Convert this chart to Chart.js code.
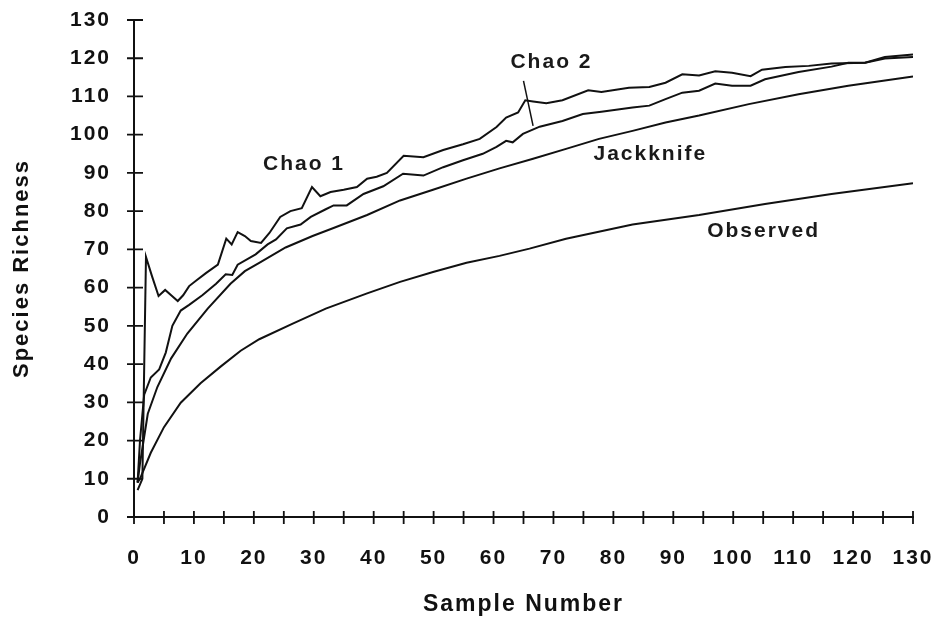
<!DOCTYPE html>
<html><head><meta charset="utf-8">
<script src="https://cdn.jsdelivr.net/npm/chart.js@4"></script>
<style>html,body{margin:0;padding:0;background:#fff}#wrap{width:946px;height:621px;position:relative}</style>
</head><body><div id="wrap"><canvas id="c"></canvas></div>
<script>
// ---- data ----
const chao1Samples = [0.6, 1.4, 2, 3, 4.1, 5.2, 6.2, 7.3, 8.2, 9.2, 10.5, 12, 14, 15.4, 16.3, 17.3, 18.5, 19.5, 21.2, 22.6, 24.4, 26.1, 28, 29.7, 31.1, 32.8, 35, 37.2, 38.9, 40.5, 42.2, 45, 48.3, 51.6, 54.9, 57.7, 60.5, 62.1, 64.1, 65.3, 66.6, 68.8, 71.5, 75.8, 78, 82.6, 86, 88.7, 91.5, 94.3, 97, 99.8, 102.9, 104.8, 108.7, 112.6, 116.4, 122, 125.3, 130];
const chao1Values  = [7, 10, 68, 63, 57.8, 59.4, 58, 56.5, 58, 60.4, 62, 63.8, 66, 72.8, 71.3, 74.5, 73.5, 72.2, 71.7, 74.3, 78.5, 80, 80.8, 86.3, 83.9, 85, 85.6, 86.3, 88.5, 89, 90, 94.5, 94.1, 96, 97.5, 98.9, 102, 104.5, 105.8, 109, 108.7, 108.2, 109, 111.6, 111.2, 112.3, 112.5, 113.6, 115.8, 115.5, 116.6, 116.2, 115.3, 117, 117.7, 118, 118.6, 118.8, 120.3, 121];

const chao2Samples = [0.6, 1, 1.7, 2.8, 4.2, 5.3, 6.4, 7.8, 9.2, 11.4, 13.7, 15.3, 16.4, 17.3, 20.3, 22.3, 23.7, 25.5, 27.8, 29.5, 32, 33.3, 35.5, 38.3, 41.6, 44.9, 48.3, 51.6, 54.9, 58.2, 60.5, 62.1, 63.2, 64.9, 67.7, 71.5, 74.9, 78, 83.2, 86, 88.7, 91.5, 94.3, 97, 99.8, 102.9, 105.3, 110.9, 116.4, 119.2, 122, 125.3, 130];
const chao2Values  = [9, 20, 32, 36.5, 38.6, 43, 50, 54, 55.5, 58, 61, 63.5, 63.3, 66, 68.7, 71.3, 72.6, 75.5, 76.5, 78.5, 80.5, 81.5, 81.5, 84.5, 86.5, 89.8, 89.3, 91.5, 93.3, 95, 96.8, 98.4, 98, 100.2, 102.1, 103.6, 105.4, 106, 107.1, 107.6, 109.3, 111, 111.5, 113.4, 112.8, 112.8, 114.5, 116.4, 117.8, 118.8, 118.8, 119.9, 120.3];

const jackknifeSamples = [0.6, 1, 2.3, 3.9, 6.2, 8.9, 12.3, 16.1, 18.5, 20.9, 25.3, 29.8, 33.3, 38.9, 44.4, 49.9, 55.5, 61, 66.6, 72.1, 77.6, 83.2, 88.7, 94.3, 102.6, 110.9, 119.2, 125.9, 130];
const jackknifeValues  = [9, 14, 27, 34, 41.5, 48, 54.5, 61, 64.3, 66.5, 70.5, 73.5, 75.6, 79, 82.8, 85.6, 88.5, 91.2, 93.7, 96.3, 98.9, 101, 103.2, 105, 108, 110.6, 112.8, 114.3, 115.2];

const observedSamples = [0.6, 1, 2.8, 5, 7.8, 11.1, 14.5, 17.8, 20.9, 26.4, 32, 38.9, 44.4, 49.9, 55.5, 61, 66, 72.1, 83.2, 94.3, 105.3, 116.4, 130];
const observedValues  = [9, 10, 16.8, 23.5, 29.9, 35, 39.4, 43.5, 46.5, 50.5, 54.5, 58.5, 61.5, 64.1, 66.5, 68.3, 70.2, 72.8, 76.5, 79, 81.9, 84.5, 87.3];

const xLabelValues = [0, 10, 20, 30, 40, 50, 60, 70, 80, 90, 100, 110, 120, 130];
const xMarkValues  = [0, 5, 10, 15, 20, 25, 30, 35, 40, 45, 50, 55, 60, 65, 70, 75, 80, 85, 90, 95, 100, 105, 110, 115, 120, 125, 130];
const yLabelValues = [0, 10, 20, 30, 40, 50, 60, 70, 80, 90, 100, 110, 120, 130];

const seriesLabels = ['Chao 1', 'Chao 2', 'Jackknife', 'Observed'];
// label anchor points in data units
const labelSamples = [28.2, 69.5, 86, 104.9];
const labelValues  = [92.4, 118.9, 95, 74.7];
// leader line for the Chao 2 label (data units)
const leaderSamples = [65.0, 66.6];
const leaderValues  = [114.1, 102.3];

const FONT = '"Liberation Sans", Arial, Helvetica, sans-serif';
const INK = '#111';

function pts(xs, ys) { return xs.map((x, i) => ({x: x, y: ys[i]})); }
function ds(label, xs, ys) {
  return { label, data: pts(xs, ys), borderColor: INK, borderWidth: 2, pointRadius: 0, pointHoverRadius: 0, tension: 0, fill: false };
}
function noPad(s) { s.paddingTop = 0; s.paddingBottom = 0; s.paddingLeft = 0; s.paddingRight = 0; }

const decor = {
  id: 'decor',
  beforeDraw(chart) { chart.ctx.letterSpacing = '2px'; },
  afterDraw(chart) {
    const ctx = chart.ctx, xs = chart.scales.x, ys = chart.scales.y;
    const ax = xs.getPixelForValue(0), ay = ys.getPixelForValue(0);
    ctx.save();
    ctx.strokeStyle = INK; ctx.lineWidth = 2;
    ctx.beginPath();
    ctx.moveTo(ax, ys.getPixelForValue(130)); ctx.lineTo(ax, ay + 1);
    ctx.moveTo(ax - 7, ay); ctx.lineTo(xs.getPixelForValue(130) + 1, ay);
    ctx.stroke();
    ctx.lineWidth = 1.8;
    ctx.beginPath();
    yLabelValues.forEach(v => { const p = ys.getPixelForValue(v); ctx.moveTo(ax - 7, p); ctx.lineTo(ax + 9, p); });
    xMarkValues.forEach(v => { const p = xs.getPixelForValue(v); ctx.moveTo(p, ay - 6); ctx.lineTo(p, ay + 7); });
    ctx.stroke();
    // leader line
    ctx.lineWidth = 1.5;
    ctx.beginPath();
    ctx.moveTo(xs.getPixelForValue(leaderSamples[0]), ys.getPixelForValue(leaderValues[0]));
    ctx.lineTo(xs.getPixelForValue(leaderSamples[1]), ys.getPixelForValue(leaderValues[1]));
    ctx.stroke();
    // series labels
    ctx.fillStyle = '#1a1a1a';
    ctx.font = 'bold 21px ' + FONT;
    ctx.letterSpacing = '2px';
    ctx.textAlign = 'center'; ctx.textBaseline = 'middle';
    seriesLabels.forEach((t, i) => {
      ctx.fillText(t, xs.getPixelForValue(labelSamples[i]) + 1, ys.getPixelForValue(labelValues[i]));
    });
    ctx.restore();
  }
};

new Chart(document.getElementById('c'), {
  type: 'line',
  data: { datasets: [
    ds('Chao 1', chao1Samples, chao1Values),
    ds('Chao 2', chao2Samples, chao2Values),
    ds('Jackknife', jackknifeSamples, jackknifeValues),
    ds('Observed', observedSamples, observedValues)
  ]},
  options: {
    responsive: true, maintainAspectRatio: false, animation: false,
    layout: { autoPadding: false, padding: { left: 0, top: 20, right: 33, bottom: 0 } },
    plugins: { legend: { display: false }, tooltip: { enabled: false } },
    scales: {
      x: {
        type: 'linear', min: 0, max: 130,
        afterBuildTicks: s => { s.ticks = xLabelValues.map(v => ({ value: v })); },
        afterFit: s => { s.height = 104; noPad(s); },
        grid: { display: false, drawTicks: false },
        border: { display: false },
        ticks: { color: '#111', padding: 29, maxRotation: 0, autoSkip: false,
                 font: { family: FONT, size: 21, weight: 'bold' } },
        title: { display: true, text: 'Sample Number', color: '#111',
                 font: { family: FONT, size: 23, weight: 'bold' }, padding: { top: 0, bottom: 3 } }
      },
      y: {
        type: 'linear', min: 0, max: 130,
        afterBuildTicks: s => { s.ticks = yLabelValues.map(v => ({ value: v })); },
        afterFit: s => { s.width = 134; noPad(s); },
        grid: { display: false, drawTicks: false },
        border: { display: false },
        ticks: { color: '#111', padding: 23, font: { family: FONT, size: 21, weight: 'bold' } },
        title: { display: true, text: 'Species Richness', color: '#111',
                 font: { family: FONT, size: 22, weight: 'bold' }, padding: { top: 9, bottom: 0 } }
      }
    }
  },
  plugins: [decor]
});
</script>
</body></html>
